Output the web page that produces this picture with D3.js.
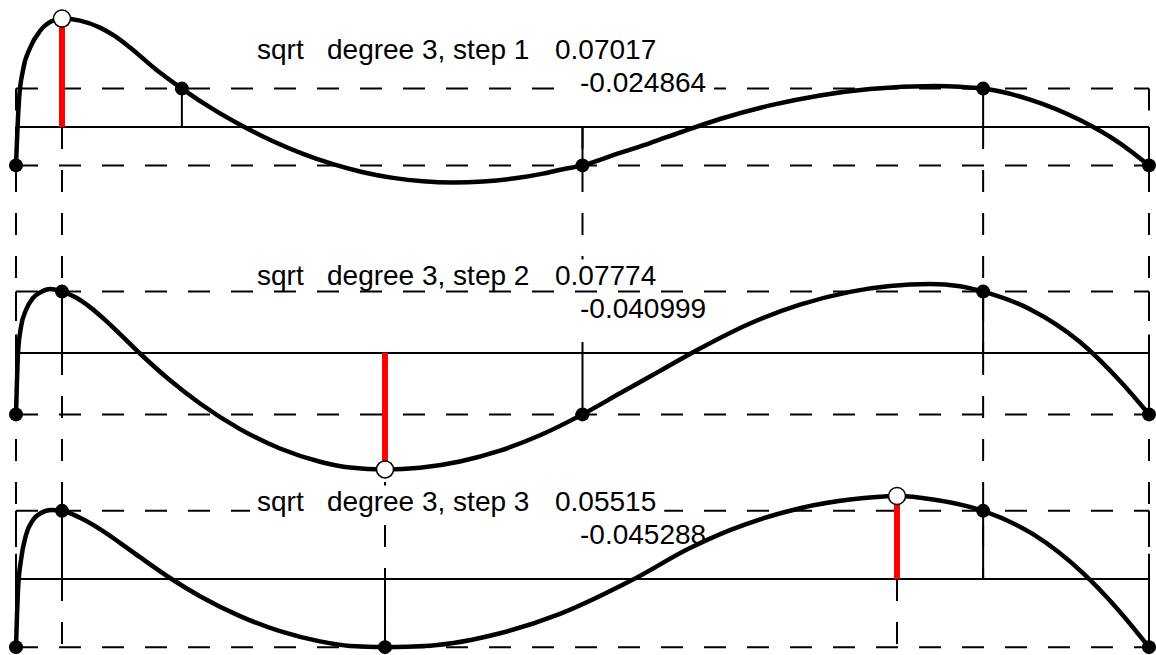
<!DOCTYPE html>
<html>
<head>
<meta charset="utf-8">
<script src="https://cdn.jsdelivr.net/npm/d3@7"></script>
<style>
  html, body { margin: 0; padding: 0; background: #fff; }
  svg { display: block; }
  text { font-family: "Liberation Sans", Arial, sans-serif; font-size: 28px; fill: #000; }
</style>
</head>
<body>
<svg id="chart" width="1156" height="655"></svg>
<script>
// Remez exchange iterations for sqrt on [0, 1], polynomial degree 3.
const functionName = "sqrt";
const degree = 3;
const steps = [1, 2, 3];

// Signed maximum error of each step and where it occurs.
const maxErrors = [0.07017, -0.07774, 0.05515];
const maxErrorX = [0.0406, 0.3257, 0.7776];

// Levelled error on the reference of each step.
const levelErrors = [-0.024864, -0.040999, -0.045288];

// Reference points used in each step (and the one that follows step 3).
const reference1 = [0, 0.1464, 0.5, 0.8536, 1];
const reference2 = [0, 0.0406, 0.5, 0.8536, 1];
const reference3 = [0, 0.0406, 0.3257, 0.8536, 1];
const reference4 = [0, 0.0406, 0.3257, 0.7776, 1];
const nodeSigns = [-1, 1, -1, 1, -1];

// Error curves sqrt(x) - p(x), sampled as [x, error].
const error1 = [
  [0, -0.024864], [0.00088, -0.00841], [0.00265, 0.01748], [0.00618, 0.03689], [0.01236, 0.05113],
  [0.02118, 0.06214], [0.03177, 0.06861], [0.0406, 0.07017], [0.05649, 0.06887], [0.07414, 0.06434],
  [0.08738, 0.05877], [0.10062, 0.05146], [0.12357, 0.03722], [0.1464, 0.024864], [0.17387, 0.01152],
  [0.20035, 0.00045], [0.22683, -0.00926], [0.25331, -0.01741], [0.27979, -0.02408], [0.30627, -0.02926],
  [0.33274, -0.03294], [0.35922, -0.03515], [0.38570, -0.03592], [0.41218, -0.03528], [0.43866, -0.03340],
  [0.46514, -0.03016], [0.48279, -0.02731], [0.5, -0.024864], [0.53310, -0.01676], [0.55958, -0.01039],
  [0.58605, -0.00356], [0.62136, 0.00518], [0.66549, 0.01398], [0.70962, 0.02045], [0.75375, 0.02460],
  [0.81112, 0.02654], [0.83319, 0.02602], [0.8536, 0.024864], [0.89497, 0.01773], [0.93910, 0.00447],
  [0.97441, -0.01061], [1, -0.024864]
];
const error2 = [
  [0, -0.040999], [0.00088, -0.01804], [0.00177, 0], [0.00441, 0.01737], [0.00883, 0.02872],
  [0.01500, 0.03674], [0.02206, 0.04075], [0.03001, 0.04275], [0.0406, 0.040999], [0.05296, 0.03707],
  [0.06531, 0.03066], [0.07855, 0.02211], [0.09179, 0.01263], [0.10944, -0.00033], [0.13592, -0.01824],
  [0.16240, -0.03373], [0.19771, -0.05084], [0.23301, -0.06379], [0.26832, -0.07261], [0.29480, -0.07649],
  [0.3257, -0.07774], [0.35658, -0.07662], [0.39188, -0.07248], [0.42718, -0.06526], [0.46249, -0.05498],
  [0.5, -0.040999], [0.53310, -0.02692], [0.56840, -0.01196], [0.60371, 0.00301], [0.64784, 0.01971],
  [0.69197, 0.03226], [0.73610, 0.04082], [0.77140, 0.04476], [0.80671, 0.04603], [0.83319, 0.04462],
  [0.8536, 0.040999], [0.89497, 0.02926], [0.93910, 0.00735], [0.97441, -0.01870], [1, -0.040999]
];
const error3 = [
  [0, -0.045288], [0.00088, -0.02392], [0.00177, -0.00731], [0.00441, 0.01262], [0.00883, 0.02924],
  [0.01500, 0.03920], [0.02206, 0.04385], [0.03089, 0.04585], [0.0406, 0.045288], [0.05649, 0.04070],
  [0.07414, 0.03316], [0.09179, 0.02405], [0.10944, 0.01449], [0.13592, 0.00066], [0.16240, -0.01143],
  [0.19771, -0.02465], [0.23301, -0.03468], [0.26832, -0.04146], [0.29480, -0.04452], [0.3257, -0.045288],
  [0.36540, -0.04432], [0.42718, -0.03608], [0.48014, -0.02319], [0.54369, -0.00073], [0.59488, 0.02053],
  [0.63019, 0.03243], [0.69197, 0.04704], [0.73610, 0.05276], [0.7776, 0.05515], [0.80935, 0.05289],
  [0.8536, 0.045288], [0.89762, 0.02977], [0.94175, 0.00392], [0.97176, -0.01953], [1, -0.045288]
];

const references = [reference1, reference2, reference3];
const nextReferences = [reference2, reference3, reference4];
const errors = [error1, error2, error3];

// ---- layout ----
const panelZero = [127, 353, 579];
const panelPxPerUnit = [1545, 1497, 1505];
const belowLast = 700;
const dash = "22,21";

const svg = d3.select("#chart");
const x = d3.scaleLinear().domain([0, 1]).range([16, 1149]);
const yScales = panelZero.map((z, i) =>
  d3.scaleLinear().domain([-0.1, 0.1]).range([z + 0.1 * panelPxPerUnit[i], z - 0.1 * panelPxPerUnit[i]]));

const gDash = svg.append("g");
const gAxis = svg.append("g");
const gText = svg.append("g");
const gCurve = svg.append("g");
const gMarks = svg.append("g");

const line = d3.line().curve(d3.curveMonotoneX);

steps.forEach((step, i) => {
  const y = yScales[i];
  const E = Math.abs(levelErrors[i]);
  const x0 = x(0), x1 = x(1);

  // dashed band at +/- levelled error, each edge as its own segment
  const edges = [
    [x0, y(E), x1, y(E)],
    [x0, y(-E), x1, y(-E)],
    [x0, y(E), x0, y(-E)],
    [x1, y(E), x1, y(-E)]
  ];
  gDash.selectAll(null).data(edges).enter().append("line")
    .attr("x1", d => d[0]).attr("y1", d => d[1]).attr("x2", d => d[2]).attr("y2", d => d[3])
    .attr("stroke", "#000").attr("stroke-width", 2).attr("stroke-dasharray", dash);

  // dashed drop lines to the reference of the next step
  const nextZero = i + 1 < panelZero.length ? panelZero[i + 1] : belowLast;
  gDash.selectAll(null).data(nextReferences[i]).enter().append("line")
    .attr("x1", d => x(d)).attr("x2", d => x(d))
    .attr("y1", y(0)).attr("y2", nextZero)
    .attr("stroke", "#000").attr("stroke-width", 2).attr("stroke-dasharray", dash);

  // zero line
  gAxis.append("line")
    .attr("x1", x0).attr("x2", x1).attr("y1", y(0)).attr("y2", y(0))
    .attr("stroke", "#000").attr("stroke-width", 2);

  // stems at the reference points
  gAxis.selectAll(null).data(references[i]).enter().append("line")
    .attr("x1", d => x(d)).attr("x2", d => x(d))
    .attr("y1", y(0)).attr("y2", (d, j) => y(nodeSigns[j] * E))
    .attr("stroke", "#000").attr("stroke-width", 2);

  // labels on a white backing
  const base1 = panelZero[i] - 68.5, base2 = panelZero[i] - 35;
  const l1 = gText.append("g");
  l1.append("text").attr("x", 257).attr("y", base1).text(functionName);
  l1.append("text").attr("x", 327).attr("y", base1).text(`degree ${degree}, step ${step}`);
  l1.append("text").attr("x", 555).attr("y", base1).text(String(Math.abs(maxErrors[i])));
  const l2 = gText.append("g");
  l2.append("text").attr("x", 580).attr("y", base2).text(String(levelErrors[i]));

  [[l1, base1], [l2, base2]].forEach(([g, base]) => {
    const bb = g.node().getBBox();
    g.insert("rect", ":first-child")
      .attr("x", bb.x - 7).attr("width", bb.width + 15)
      .attr("y", bb.y).attr("height", base + 3 - bb.y)
      .attr("fill", "#fff");
  });

  // error curve
  gCurve.append("path")
    .attr("d", line(errors[i].map(d => [x(d[0]), y(d[1])])))
    .attr("fill", "none").attr("stroke", "#000").attr("stroke-width", 4.5)
    .attr("stroke-linejoin", "round").attr("stroke-linecap", "round");

  // maximum error marker
  gMarks.append("line")
    .attr("x1", x(maxErrorX[i])).attr("x2", x(maxErrorX[i]))
    .attr("y1", y(0)).attr("y2", y(maxErrors[i]))
    .attr("stroke", "#ff0000").attr("stroke-width", 6);

  // reference points on the curve
  gMarks.selectAll(null).data(references[i]).enter().append("circle")
    .attr("cx", d => x(d)).attr("cy", (d, j) => y(nodeSigns[j] * E))
    .attr("r", 7).attr("fill", "#000");

  gMarks.append("circle")
    .attr("cx", x(maxErrorX[i])).attr("cy", y(maxErrors[i]))
    .attr("r", 8.5).attr("fill", "#fff").attr("stroke", "#000").attr("stroke-width", 1.5);
});
</script>
</body>
</html>
